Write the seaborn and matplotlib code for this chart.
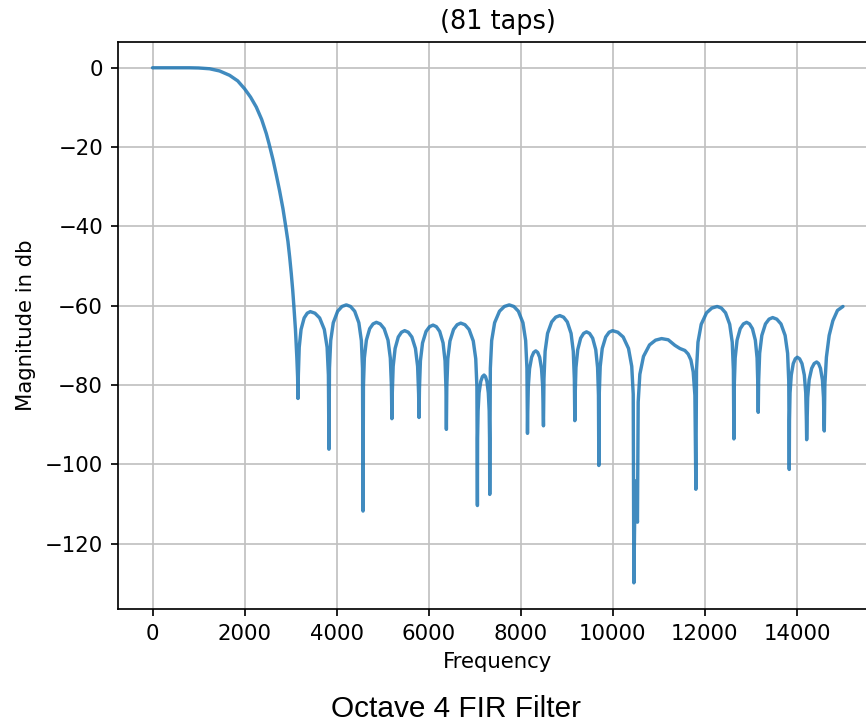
import numpy as np
import matplotlib
matplotlib.use("Agg")
import matplotlib.pyplot as plt
import seaborn as sns

# DATOS
# lobulo principal
freq_main = [0, 400, 800, 1000, 1240, 1456, 1674, 1850, 2000, 2130, 2254, 2370,
             2472, 2530, 2620, 2689, 2760, 2833, 2891, 2942, 2980, 3015, 3045,
             3070, 3105, 3135, 3152]
mag_main = [0, 0, 0, -0.05, -0.25, -0.8, -1.9, -3.3, -5.3, -7.4, -9.9, -13,
            -16.6, -19.1, -23.3, -27, -31, -35.5, -39.8, -43.8, -47.8, -52, -56,
            -60, -66, -73, -78]

# banda de rechazo (lobulos laterales)
freq_stop = [
    3160, 3168, 3187, 3227, 3294, 3361, 3428, 3529, 3631, 3732, 3793, 3821,
    3833, 3844, 3871, 3927, 4022, 4116, 4210, 4301, 4392, 4482, 4537, 4562,
    4573, 4582, 4602, 4646, 4718, 4791, 4863, 4947, 5032, 5116, 5166, 5190,
    5200, 5208, 5228, 5270, 5339, 5409, 5478, 5556, 5634, 5712, 5759, 5781,
    5790, 5799, 5820, 5866, 5942, 6018, 6094, 6167, 6239, 6312, 6355, 6375,
    6384, 6393, 6415, 6462, 6540, 6618, 6696, 6787, 6877, 6968, 7022, 7047,
    7058, 7062, 7073, 7094, 7131, 7167, 7203, 7234, 7265, 7295, 7314, 7322,
    7326, 7339, 7368, 7432, 7538, 7644, 7750, 7849, 7948, 8047, 8106, 8134,
    8146, 8151, 8164, 8191, 8236, 8281, 8326, 8368, 8410, 8451, 8476, 8488,
    8493, 8504, 8529, 8582, 8671, 8759, 8848, 8930, 9011, 9093, 9141, 9164,
    9174, 9182, 9199, 9238, 9301, 9365, 9428, 9495, 9562, 9629, 9669, 9688,
    9696, 9705, 9726, 9770, 9845, 9919, 9993, 10109, 10225, 10341, 10411, 10443,
    10457, 10485, 10535,
    10551, 10587, 10666, 10797, 10928, 11059, 11203, 11348, 11457, 11565, 11637,
    11696, 11746, 11783,
    11804, 11818, 11850, 11920, 12036, 12151, 12267, 12358, 12449, 12539, 12594, 12619,
    12630, 12638, 12658, 12699, 12768, 12837, 12906, 12969, 13033, 13096, 13134, 13151,
    13159, 13168, 13190, 13237, 13316, 13394, 13472, 13562, 13653, 13743, 13797, 13822,
    13833, 13838, 13850, 13877, 13920, 13964, 14007, 14058, 14109, 14160, 14191, 14205,
    14211, 14218, 14233, 14265, 14320, 14374, 14428, 14470, 14511, 14553, 14577, 14589,
    14594, 14606, 14640, 14700, 14780, 14880, 15000]
mag_stop = [
    -83.4, -77.5, -70.5, -66, -63.1, -61.9, -61.5, -61.9, -63.1, -66, -70.5, -77.5,
    -96.2, -75.8, -68.8, -64.3, -61.4, -60.2, -59.8, -60.2, -61.4, -64.3, -68.8, -75.8,
    -111.8, -80.2, -73.2, -68.7, -65.8, -64.6, -64.2, -64.6, -65.8, -68.7, -73.2, -80.2,
    -88.5, -82.3, -75.3, -70.8, -67.9, -66.7, -66.3, -66.7, -67.9, -70.8, -75.3, -82.3,
    -88.2, -80.9, -73.9, -69.4, -66.5, -65.3, -64.9, -65.3, -66.5, -69.4, -73.9, -80.9,
    -91.2, -80.4, -73.4, -68.9, -66, -64.8, -64.4, -64.8, -66, -68.9, -73.4, -80.4,
    -110.4, -93.5, -86.5, -82, -79.1, -77.9, -77.5, -77.9, -79.1, -82, -86.5, -93.5,
    -107.6, -75.8, -68.8, -64.3, -61.4, -60.2, -59.8, -60.2, -61.4, -64.3, -68.8, -75.8,
    -92.2, -87.4, -80.4, -75.9, -73, -71.8, -71.4, -71.8, -73, -75.9, -80.4, -87.4,
    -90.3, -78.5, -71.5, -67, -64.1, -62.9, -62.5, -62.9, -64.1, -67, -71.5, -78.5,
    -89, -82.6, -75.6, -71.1, -68.2, -67, -66.6, -67, -68.2, -71.1, -75.6, -82.6,
    -100.3, -82.3, -75.3, -70.8, -67.9, -66.7, -66.3, -66.7, -67.9, -70.8, -75.3, -82.3,
    -129.9, -104.2, -114.6,
    -84.3, -77.3, -72.8, -69.9, -68.7, -68.3, -68.6, -70, -70.8, -71.3, -72.2,
    -73.7, -76.7, -82.6,
    -106.3, -76.2, -69.2, -64.7, -61.8, -60.6, -60.2, -60.6, -61.8, -64.7, -69.2, -76.2,
    -93.6, -80.2, -73.2, -68.7, -65.8, -64.6, -64.2, -64.6, -65.8, -68.7, -73.2, -80.2,
    -86.9, -79, -72, -67.5, -64.6, -63.4, -63, -63.4, -64.6, -67.5, -72, -79,
    -101.3, -89, -82, -77.5, -74.6, -73.4, -73, -73.4, -74.6, -77.5, -82, -89,
    -93.8, -90.2, -83.2, -78.7, -75.8, -74.6, -74.2, -74.6, -75.8, -78.7, -83.2, -90.2,
    -91.6, -80, -73, -67.5, -63.8, -61.2, -60.2]

xticks = [0, 2000, 4000, 6000, 8000, 10000, 12000, 14000]
yticks = [-120, -100, -80, -60, -40, -20, 0]

freq = np.array(freq_main + freq_stop)
mag = np.array(mag_main + mag_stop)

# ESTILO
sns.set_style("ticks", rc={
    "axes.grid": True,
    "grid.color": "#c0c0c0",
    "grid.linewidth": 0.8,
    "axes.edgecolor": "black",
    "xtick.color": "black",
    "ytick.color": "black",
    "text.color": "black",
    "axes.labelcolor": "black",
})
plt.rcParams["font.family"] = ["DejaVu Sans"]

# GRAFICO
fig = plt.figure(figsize=(866 / 153, 723 / 153), dpi=153)
ax = fig.add_axes([118 / 866, 114 / 723, 759.5 / 866, 567 / 723])
sns.lineplot(x=freq, y=mag, ax=ax, color="#1f77b4", alpha=0.85,
             linewidth=1.6, estimator=None, sort=False)
ax.set_xticks(xticks)
ax.set_yticks(yticks)
ax.set_xlim(-750, 15750)
ax.set_ylim(-136.5, 6.5)
ax.set_title("(81 taps)", fontsize=12)
ax.set_xlabel("Frequency", fontsize=10)
ax.set_ylabel("Magnitude in db", fontsize=10)
ax.tick_params(labelsize=10, length=3.5, width=0.8)
for s in ax.spines.values():
    s.set_linewidth(0.8)

fig.text(456 / 866, 0.019, "Octave 4 FIR Filter", ha="center", va="center",
         fontsize=14, family="Liberation Sans")

fig.savefig("out.png", dpi=153)
